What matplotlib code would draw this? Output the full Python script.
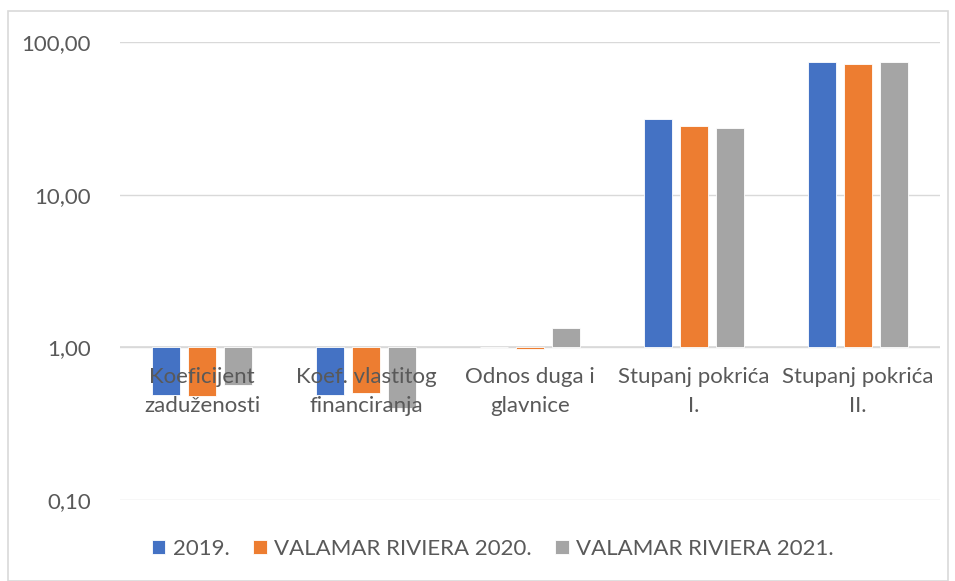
import matplotlib
matplotlib.use("Agg")
from matplotlib import pyplot as plt
from matplotlib.patches import Rectangle
from matplotlib.ticker import FixedLocator, FuncFormatter
import numpy as np

# Data
CATEGORIES = ["Koeficijent\nzaduženosti", "Koef. vlastitog\nfinanciranja", "Odnos duga i\nglavnice",
              "Stupanj pokrića\nI.", "Stupanj pokrića\nII."]
SERIES = ["2019.", "VALAMAR RIVIERA 2020.", "VALAMAR RIVIERA 2021."]
VALUES_2019 = [0.49, 0.49, 1.0, 31.3, 74.0]
VALUES_2020 = [0.48, 0.50, 0.97, 28.3, 71.5]
VALUES_2021 = [0.57, 0.40, 1.34, 27.3, 74.0]
Y_TICKS = [0.1, 1, 10, 100]

COLORS = ["#4472C4", "#ED7D31", "#A5A5A5"]
TEXT_COLOR = "#595959"
FONT = ["Lato", "DejaVu Sans"]
FS = 16

plt.rcParams["font.family"] = FONT

fig = plt.figure(figsize=(9.55, 5.81), dpi=100)
ax = fig.add_axes([120 / 955, 1 - 500 / 581, 820 / 955, 458 / 581])

x = np.arange(len(CATEGORIES))
width = 0.17
offset = 0.222
for i, (vals, name) in enumerate(zip([VALUES_2019, VALUES_2020, VALUES_2021], SERIES)):
    vals = np.array(vals)
    ax.bar(x + (i - 1) * offset, vals - 1, bottom=1, width=width, color=COLORS[i],
           edgecolor="white", linewidth=0.6, label=name, zorder=3)

ax.set_yscale("log")
ax.set_ylim(0.1, 100)
ax.set_xlim(-0.5, len(CATEGORIES) - 0.5)
ax.yaxis.set_major_locator(FixedLocator(Y_TICKS))
ax.yaxis.set_minor_locator(FixedLocator([]))
ax.yaxis.set_major_formatter(FuncFormatter(lambda v, _: f"{v:.2f}".replace(".", ",")))
ax.tick_params(axis="y", length=0, pad=21, labelsize=FS, labelcolor=TEXT_COLOR)
ax.grid(axis="y", color="#D9D9D9", linewidth=1, zorder=0)
ax.axhline(1, color="#D9D9D9", linewidth=1.2, zorder=2)
for s in ax.spines.values():
    s.set_visible(False)

# category labels sit under the 1,00 line where the axis crosses
ax.set_xticks([])
for xi, cat in zip(x, CATEGORIES):
    ax.text(xi, 0.745, cat, ha="center", va="top", fontsize=FS, color=TEXT_COLOR,
            linespacing=1.6, zorder=4)

ax.legend(loc="center", bbox_to_anchor=(0.455, -0.107), ncol=3, frameon=False,
          fontsize=FS, labelcolor=TEXT_COLOR, handlelength=0.6, handleheight=0.6,
          handletextpad=0.35, columnspacing=1.05)

fig.patches.append(Rectangle((8 / 955, 0), 940 / 955, 1 - 11 / 581, transform=fig.transFigure,
                             fill=False, edgecolor="#D9D9D9", linewidth=1.2))

fig.savefig("out.png", dpi=100)
